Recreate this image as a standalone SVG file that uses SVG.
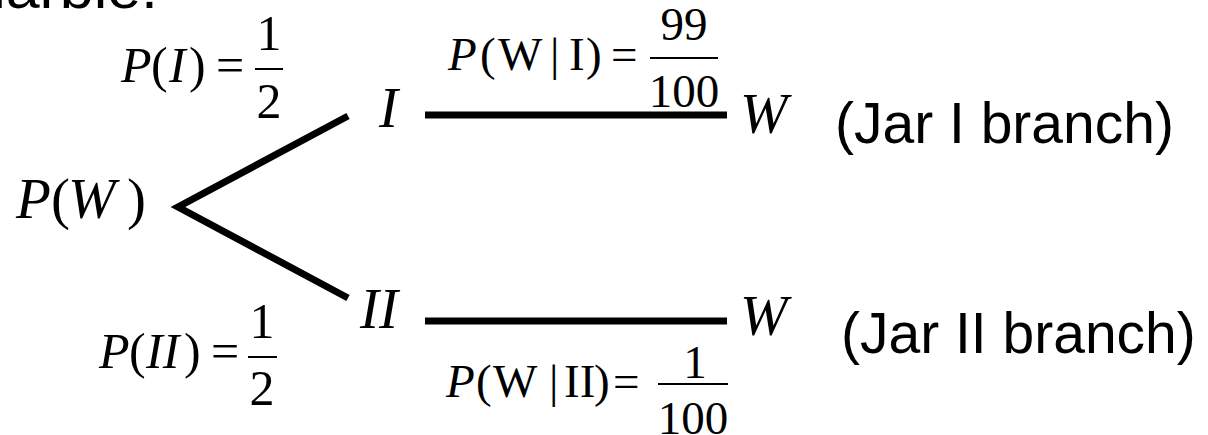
<svg xmlns="http://www.w3.org/2000/svg" width="1208" height="435" viewBox="0 0 1208 435">
  <style>
    .m { font-family: "Liberation Serif", "Times New Roman", serif; fill: #000; }
    .it { font-style: italic; }
    .eq { font-size: 50px; }
    .eq2 { font-size: 47px; }
    .node { font-size: 57px; font-style: italic; }
    .sans { font-family: "Liberation Sans", Arial, sans-serif; font-size: 57px; fill: #000; }
    .conn { stroke: #000; stroke-width: 7; fill: none; stroke-linecap: butt; stroke-linejoin: miter; }
    .bar { stroke: #000; stroke-width: 2; }
  </style>
  <rect width="1208" height="435" fill="#fff"/>

  <text class="sans" x="-45" y="8" font-size="62" textLength="203" lengthAdjust="spacingAndGlyphs">marble.</text>

  <g id="connectors">
    <polyline class="conn" points="348,116 178,207 348,298"/>
    <line class="conn" x1="425" y1="115" x2="727" y2="115"/>
    <line class="conn" x1="425" y1="321" x2="727" y2="321"/>
  </g>

  <g id="node-PW">
    <text class="m node" y="218"><tspan x="16">P</tspan><tspan x="51" font-style="normal">(</tspan><tspan x="68">W</tspan><tspan x="127" font-style="normal">)</tspan></text>
  </g>

  <g id="node-I">
    <text class="m node" x="379" y="127">I</text>
  </g>

  <g id="node-II">
    <text class="m node" x="360" y="328">II</text>
  </g>

  <g id="node-W1">
    <text class="m node" x="740" y="133">W</text>
  </g>

  <g id="node-W2">
    <text class="m node" x="740" y="335">W</text>
  </g>

  <g id="label-PI">
    <text class="m eq" y="82"><tspan x="121" class="it">P</tspan><tspan x="151">(</tspan><tspan x="169" class="it">I</tspan><tspan x="189">)</tspan><tspan x="216">=</tspan></text>
    <text class="m eq" x="269" y="50" text-anchor="middle">1</text>
    <line class="bar" x1="255" y1="69" x2="283" y2="69"/>
    <text class="m eq" x="269" y="118" text-anchor="middle">2</text>
  </g>

  <g id="label-PII">
    <text class="m eq" y="368"><tspan x="99" class="it">P</tspan><tspan x="129">(</tspan><tspan x="146" class="it">II</tspan><tspan x="184">)</tspan><tspan x="211">=</tspan></text>
    <text class="m eq" x="262" y="338" text-anchor="middle">1</text>
    <line class="bar" x1="248" y1="357" x2="277" y2="357"/>
    <text class="m eq" x="262" y="405" text-anchor="middle">2</text>
  </g>

  <g id="label-PWI">
    <text class="m eq2" y="70"><tspan x="448" class="it">P</tspan><tspan x="480">(</tspan><tspan x="498">W</tspan><tspan x="550">|</tspan><tspan x="569">I</tspan><tspan x="586">)</tspan><tspan x="611">=</tspan></text>
    <text class="m eq2" x="684" y="40" text-anchor="middle">99</text>
    <line class="bar" x1="650" y1="58" x2="718" y2="58"/>
    <text class="m eq2" x="684" y="107" text-anchor="middle">100</text>
  </g>

  <g id="label-PWII">
    <text class="m eq2" y="397"><tspan x="446" class="it">P</tspan><tspan x="476">(</tspan><tspan x="493">W</tspan><tspan x="549">|</tspan><tspan x="564">II</tspan><tspan x="594">)</tspan><tspan x="613">=</tspan></text>
    <text class="m eq2" x="695" y="378" text-anchor="middle">1</text>
    <line class="bar" x1="658" y1="384" x2="728" y2="384"/>
    <text class="m eq2" x="693" y="434" text-anchor="middle">100</text>
  </g>

  <g id="label-jar1">
    <text class="sans" x="835" y="143">(Jar I branch)</text>
  </g>
  <g id="label-jar2">
    <text class="sans" x="841" y="353">(Jar II branch)</text>
  </g>
</svg>
